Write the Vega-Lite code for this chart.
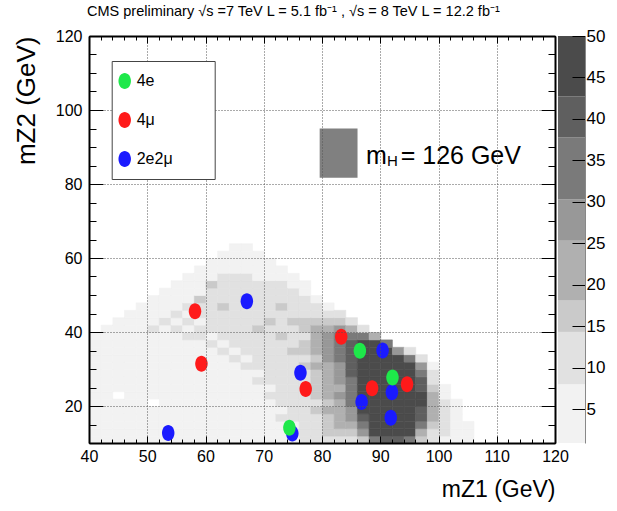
{
"$schema": "https://vega.github.io/schema/vega-lite/v6.json",
"padding": {"left": 13, "top": 3, "right": 5, "bottom": 3},
"bounds": "flush",
"title": {"text": "CMS preliminary √s =7 TeV L = 5.1 fb⁻¹ , √s = 8 TeV L = 12.2 fb⁻¹", "fontSize": 14.5, "fontWeight": "normal", "font": "Liberation Sans", "anchor": "start", "frame": "group", "dx": -2, "offset": 8, "color": "black"},
"datasets": {
"bands": [{"lo":0.9,"hi":8},{"lo":8,"hi":14.3},{"lo":14.3,"hi":18.1},{"lo":18.1,"hi":25.3},{"lo":25.3,"hi":30.3},{"lo":30.3,"hi":37.75},{"lo":37.75,"hi":42.7},{"lo":42.7,"hi":50}],
"events": [
{"mZ1":67.1,"mZ2":48.3,"ch":"2e2μ"},{"mZ1":53.6,"mZ2":12.7,"ch":"2e2μ"},{"mZ1":76.3,"mZ2":29.0,"ch":"2e2μ"},{"mZ1":90.4,"mZ2":35.0,"ch":"2e2μ"},{"mZ1":86.8,"mZ2":21.1,"ch":"2e2μ"},{"mZ1":92.0,"mZ2":23.7,"ch":"2e2μ"},{"mZ1":91.8,"mZ2":16.8,"ch":"2e2μ"},{"mZ1":74.9,"mZ2":12.6,"ch":"2e2μ"},
{"mZ1":58.2,"mZ2":45.6,"ch":"4μ"},{"mZ1":59.3,"mZ2":31.4,"ch":"4μ"},{"mZ1":77.2,"mZ2":24.6,"ch":"4μ"},{"mZ1":83.3,"mZ2":38.7,"ch":"4μ"},{"mZ1":88.6,"mZ2":24.8,"ch":"4μ"},{"mZ1":94.6,"mZ2":25.9,"ch":"4μ"},
{"mZ1":86.5,"mZ2":34.9,"ch":"4e"},{"mZ1":92.1,"mZ2":27.7,"ch":"4e"},{"mZ1":74.4,"mZ2":14.1,"ch":"4e"}
],
"hist": [
{"mZ1":40,"mZ2":10,"n":4},{"mZ1":40,"mZ2":12,"n":3},{"mZ1":40,"mZ2":14,"n":5},{"mZ1":40,"mZ2":16,"n":4},{"mZ1":40,"mZ2":18,"n":3},{"mZ1":40,"mZ2":20,"n":5},{"mZ1":40,"mZ2":22,"n":4},{"mZ1":40,"mZ2":24,"n":6},{"mZ1":40,"mZ2":26,"n":3},{"mZ1":40,"mZ2":28,"n":4},{"mZ1":40,"mZ2":30,"n":5},{"mZ1":40,"mZ2":32,"n":3},{"mZ1":40,"mZ2":34,"n":4},{"mZ1":40,"mZ2":36,"n":3},{"mZ1":40,"mZ2":38,"n":2},
{"mZ1":42,"mZ2":10,"n":3},{"mZ1":42,"mZ2":12,"n":5},{"mZ1":42,"mZ2":14,"n":4},{"mZ1":42,"mZ2":16,"n":6},{"mZ1":42,"mZ2":18,"n":4},{"mZ1":42,"mZ2":20,"n":3},{"mZ1":42,"mZ2":22,"n":5},{"mZ1":42,"mZ2":24,"n":4},{"mZ1":42,"mZ2":26,"n":5},{"mZ1":42,"mZ2":28,"n":6},{"mZ1":42,"mZ2":30,"n":4},{"mZ1":42,"mZ2":32,"n":5},{"mZ1":42,"mZ2":34,"n":3},{"mZ1":42,"mZ2":36,"n":4},{"mZ1":42,"mZ2":38,"n":3},{"mZ1":42,"mZ2":40,"n":2},
{"mZ1":44,"mZ2":10,"n":5},{"mZ1":44,"mZ2":12,"n":4},{"mZ1":44,"mZ2":14,"n":6},{"mZ1":44,"mZ2":16,"n":3},{"mZ1":44,"mZ2":18,"n":5},{"mZ1":44,"mZ2":20,"n":4},{"mZ1":44,"mZ2":24,"n":5},{"mZ1":44,"mZ2":26,"n":4},{"mZ1":44,"mZ2":28,"n":6},{"mZ1":44,"mZ2":30,"n":5},{"mZ1":44,"mZ2":32,"n":4},{"mZ1":44,"mZ2":34,"n":6},{"mZ1":44,"mZ2":36,"n":5},{"mZ1":44,"mZ2":38,"n":4},{"mZ1":44,"mZ2":40,"n":3},{"mZ1":44,"mZ2":42,"n":2},
{"mZ1":46,"mZ2":10,"n":4},{"mZ1":46,"mZ2":12,"n":6},{"mZ1":46,"mZ2":14,"n":5},{"mZ1":46,"mZ2":16,"n":4},{"mZ1":46,"mZ2":18,"n":3},{"mZ1":46,"mZ2":20,"n":5},{"mZ1":46,"mZ2":22,"n":6},{"mZ1":46,"mZ2":24,"n":4},{"mZ1":46,"mZ2":26,"n":5},{"mZ1":46,"mZ2":28,"n":4},{"mZ1":46,"mZ2":30,"n":6},{"mZ1":46,"mZ2":32,"n":5},{"mZ1":46,"mZ2":34,"n":4},{"mZ1":46,"mZ2":36,"n":7},{"mZ1":46,"mZ2":38,"n":5},{"mZ1":46,"mZ2":40,"n":4},{"mZ1":46,"mZ2":42,"n":3},{"mZ1":46,"mZ2":44,"n":2},
{"mZ1":48,"mZ2":10,"n":5},{"mZ1":48,"mZ2":12,"n":4},{"mZ1":48,"mZ2":14,"n":3},{"mZ1":48,"mZ2":16,"n":6},{"mZ1":48,"mZ2":18,"n":5},{"mZ1":48,"mZ2":20,"n":4},{"mZ1":48,"mZ2":22,"n":5},{"mZ1":48,"mZ2":24,"n":6},{"mZ1":48,"mZ2":26,"n":4},{"mZ1":48,"mZ2":28,"n":5},{"mZ1":48,"mZ2":30,"n":7},{"mZ1":48,"mZ2":32,"n":5},{"mZ1":48,"mZ2":34,"n":6},{"mZ1":48,"mZ2":36,"n":5},{"mZ1":48,"mZ2":38,"n":7},{"mZ1":48,"mZ2":40,"n":6},{"mZ1":48,"mZ2":42,"n":5},{"mZ1":48,"mZ2":44,"n":4},{"mZ1":48,"mZ2":46,"n":3},
{"mZ1":50,"mZ2":10,"n":3},{"mZ1":50,"mZ2":12,"n":5},{"mZ1":50,"mZ2":14,"n":4},{"mZ1":50,"mZ2":16,"n":5},{"mZ1":50,"mZ2":18,"n":6},{"mZ1":50,"mZ2":22,"n":5},{"mZ1":50,"mZ2":24,"n":4},{"mZ1":50,"mZ2":26,"n":6},{"mZ1":50,"mZ2":28,"n":5},{"mZ1":50,"mZ2":30,"n":6},{"mZ1":50,"mZ2":32,"n":5},{"mZ1":50,"mZ2":34,"n":7},{"mZ1":50,"mZ2":36,"n":6},{"mZ1":50,"mZ2":38,"n":5},{"mZ1":50,"mZ2":40,"n":9},{"mZ1":50,"mZ2":42,"n":6},{"mZ1":50,"mZ2":44,"n":5},{"mZ1":50,"mZ2":46,"n":4},{"mZ1":50,"mZ2":48,"n":3},
{"mZ1":52,"mZ2":10,"n":5},{"mZ1":52,"mZ2":12,"n":4},{"mZ1":52,"mZ2":14,"n":6},{"mZ1":52,"mZ2":16,"n":5},{"mZ1":52,"mZ2":18,"n":4},{"mZ1":52,"mZ2":20,"n":5},{"mZ1":52,"mZ2":22,"n":6},{"mZ1":52,"mZ2":24,"n":5},{"mZ1":52,"mZ2":26,"n":4},{"mZ1":52,"mZ2":28,"n":6},{"mZ1":52,"mZ2":30,"n":5},{"mZ1":52,"mZ2":32,"n":7},{"mZ1":52,"mZ2":34,"n":6},{"mZ1":52,"mZ2":36,"n":5},{"mZ1":52,"mZ2":38,"n":7},{"mZ1":52,"mZ2":40,"n":6},{"mZ1":52,"mZ2":42,"n":9},{"mZ1":52,"mZ2":44,"n":7},{"mZ1":52,"mZ2":46,"n":5},{"mZ1":52,"mZ2":48,"n":4},{"mZ1":52,"mZ2":50,"n":3},
{"mZ1":54,"mZ2":10,"n":4},{"mZ1":54,"mZ2":12,"n":6},{"mZ1":54,"mZ2":14,"n":3},{"mZ1":54,"mZ2":16,"n":5},{"mZ1":54,"mZ2":18,"n":6},{"mZ1":54,"mZ2":20,"n":4},{"mZ1":54,"mZ2":22,"n":5},{"mZ1":54,"mZ2":24,"n":6},{"mZ1":54,"mZ2":26,"n":5},{"mZ1":54,"mZ2":28,"n":7},{"mZ1":54,"mZ2":30,"n":5},{"mZ1":54,"mZ2":32,"n":6},{"mZ1":54,"mZ2":34,"n":5},{"mZ1":54,"mZ2":36,"n":7},{"mZ1":54,"mZ2":38,"n":6},{"mZ1":54,"mZ2":40,"n":9},{"mZ1":54,"mZ2":42,"n":7},{"mZ1":54,"mZ2":44,"n":10},{"mZ1":54,"mZ2":46,"n":6},{"mZ1":54,"mZ2":48,"n":5},{"mZ1":54,"mZ2":50,"n":4},{"mZ1":54,"mZ2":52,"n":3},
{"mZ1":56,"mZ2":10,"n":5},{"mZ1":56,"mZ2":12,"n":4},{"mZ1":56,"mZ2":14,"n":5},{"mZ1":56,"mZ2":16,"n":6},{"mZ1":56,"mZ2":18,"n":5},{"mZ1":56,"mZ2":20,"n":6},{"mZ1":56,"mZ2":22,"n":4},{"mZ1":56,"mZ2":24,"n":5},{"mZ1":56,"mZ2":26,"n":7},{"mZ1":56,"mZ2":28,"n":6},{"mZ1":56,"mZ2":30,"n":5},{"mZ1":56,"mZ2":32,"n":6},{"mZ1":56,"mZ2":34,"n":7},{"mZ1":56,"mZ2":36,"n":6},{"mZ1":56,"mZ2":38,"n":9},{"mZ1":56,"mZ2":40,"n":7},{"mZ1":56,"mZ2":42,"n":10},{"mZ1":56,"mZ2":44,"n":7},{"mZ1":56,"mZ2":46,"n":9},{"mZ1":56,"mZ2":48,"n":6},{"mZ1":56,"mZ2":50,"n":5},{"mZ1":56,"mZ2":52,"n":4},{"mZ1":56,"mZ2":54,"n":3},
{"mZ1":58,"mZ2":10,"n":4},{"mZ1":58,"mZ2":12,"n":5},{"mZ1":58,"mZ2":14,"n":6},{"mZ1":58,"mZ2":16,"n":4},{"mZ1":58,"mZ2":18,"n":5},{"mZ1":58,"mZ2":20,"n":6},{"mZ1":58,"mZ2":22,"n":5},{"mZ1":58,"mZ2":24,"n":6},{"mZ1":58,"mZ2":26,"n":5},{"mZ1":58,"mZ2":28,"n":6},{"mZ1":58,"mZ2":30,"n":7},{"mZ1":58,"mZ2":32,"n":6},{"mZ1":58,"mZ2":34,"n":5},{"mZ1":58,"mZ2":36,"n":7},{"mZ1":58,"mZ2":38,"n":9},{"mZ1":58,"mZ2":40,"n":10},{"mZ1":58,"mZ2":42,"n":7},{"mZ1":58,"mZ2":44,"n":11},{"mZ1":58,"mZ2":46,"n":9},{"mZ1":58,"mZ2":48,"n":16},{"mZ1":58,"mZ2":50,"n":7},{"mZ1":58,"mZ2":52,"n":6},{"mZ1":58,"mZ2":54,"n":5},{"mZ1":58,"mZ2":56,"n":3},
{"mZ1":60,"mZ2":10,"n":5},{"mZ1":60,"mZ2":12,"n":4},{"mZ1":60,"mZ2":14,"n":5},{"mZ1":60,"mZ2":16,"n":6},{"mZ1":60,"mZ2":18,"n":5},{"mZ1":60,"mZ2":20,"n":5},{"mZ1":60,"mZ2":22,"n":6},{"mZ1":60,"mZ2":24,"n":5},{"mZ1":60,"mZ2":26,"n":6},{"mZ1":60,"mZ2":28,"n":7},{"mZ1":60,"mZ2":30,"n":6},{"mZ1":60,"mZ2":32,"n":5},{"mZ1":60,"mZ2":34,"n":7},{"mZ1":60,"mZ2":36,"n":9},{"mZ1":60,"mZ2":38,"n":7},{"mZ1":60,"mZ2":40,"n":10},{"mZ1":60,"mZ2":42,"n":12},{"mZ1":60,"mZ2":44,"n":9},{"mZ1":60,"mZ2":46,"n":10},{"mZ1":60,"mZ2":48,"n":9},{"mZ1":60,"mZ2":50,"n":11},{"mZ1":60,"mZ2":52,"n":16},{"mZ1":60,"mZ2":54,"n":7},{"mZ1":60,"mZ2":56,"n":5},{"mZ1":60,"mZ2":58,"n":3},
{"mZ1":62,"mZ2":10,"n":4},{"mZ1":62,"mZ2":12,"n":6},{"mZ1":62,"mZ2":14,"n":5},{"mZ1":62,"mZ2":16,"n":5},{"mZ1":62,"mZ2":18,"n":6},{"mZ1":62,"mZ2":20,"n":7},{"mZ1":62,"mZ2":22,"n":5},{"mZ1":62,"mZ2":24,"n":6},{"mZ1":62,"mZ2":26,"n":6},{"mZ1":62,"mZ2":28,"n":7},{"mZ1":62,"mZ2":30,"n":6},{"mZ1":62,"mZ2":32,"n":7},{"mZ1":62,"mZ2":34,"n":9},{"mZ1":62,"mZ2":36,"n":7},{"mZ1":62,"mZ2":38,"n":10},{"mZ1":62,"mZ2":40,"n":9},{"mZ1":62,"mZ2":42,"n":11},{"mZ1":62,"mZ2":44,"n":10},{"mZ1":62,"mZ2":46,"n":16},{"mZ1":62,"mZ2":48,"n":12},{"mZ1":62,"mZ2":50,"n":9},{"mZ1":62,"mZ2":52,"n":10},{"mZ1":62,"mZ2":54,"n":9},{"mZ1":62,"mZ2":56,"n":6},{"mZ1":62,"mZ2":58,"n":5},{"mZ1":62,"mZ2":60,"n":3},
{"mZ1":64,"mZ2":10,"n":5},{"mZ1":64,"mZ2":12,"n":5},{"mZ1":64,"mZ2":14,"n":6},{"mZ1":64,"mZ2":16,"n":4},{"mZ1":64,"mZ2":18,"n":6},{"mZ1":64,"mZ2":20,"n":5},{"mZ1":64,"mZ2":22,"n":6},{"mZ1":64,"mZ2":24,"n":7},{"mZ1":64,"mZ2":26,"n":5},{"mZ1":64,"mZ2":28,"n":6},{"mZ1":64,"mZ2":30,"n":7},{"mZ1":64,"mZ2":32,"n":9},{"mZ1":64,"mZ2":34,"n":7},{"mZ1":64,"mZ2":36,"n":10},{"mZ1":64,"mZ2":38,"n":9},{"mZ1":64,"mZ2":40,"n":10},{"mZ1":64,"mZ2":42,"n":12},{"mZ1":64,"mZ2":44,"n":9},{"mZ1":64,"mZ2":46,"n":11},{"mZ1":64,"mZ2":48,"n":10},{"mZ1":64,"mZ2":50,"n":13},{"mZ1":64,"mZ2":52,"n":9},{"mZ1":64,"mZ2":54,"n":10},{"mZ1":64,"mZ2":56,"n":7},{"mZ1":64,"mZ2":58,"n":6},{"mZ1":64,"mZ2":60,"n":5},{"mZ1":64,"mZ2":62,"n":3},
{"mZ1":66,"mZ2":10,"n":4},{"mZ1":66,"mZ2":12,"n":6},{"mZ1":66,"mZ2":14,"n":5},{"mZ1":66,"mZ2":16,"n":6},{"mZ1":66,"mZ2":18,"n":5},{"mZ1":66,"mZ2":20,"n":7},{"mZ1":66,"mZ2":22,"n":6},{"mZ1":66,"mZ2":24,"n":5},{"mZ1":66,"mZ2":26,"n":7},{"mZ1":66,"mZ2":28,"n":6},{"mZ1":66,"mZ2":30,"n":9},{"mZ1":66,"mZ2":32,"n":7},{"mZ1":66,"mZ2":34,"n":10},{"mZ1":66,"mZ2":36,"n":9},{"mZ1":66,"mZ2":38,"n":11},{"mZ1":66,"mZ2":40,"n":10},{"mZ1":66,"mZ2":42,"n":9},{"mZ1":66,"mZ2":44,"n":12},{"mZ1":66,"mZ2":46,"n":10},{"mZ1":66,"mZ2":48,"n":16},{"mZ1":66,"mZ2":50,"n":11},{"mZ1":66,"mZ2":52,"n":10},{"mZ1":66,"mZ2":54,"n":9},{"mZ1":66,"mZ2":56,"n":7},{"mZ1":66,"mZ2":58,"n":6},{"mZ1":66,"mZ2":60,"n":5},{"mZ1":66,"mZ2":62,"n":3},
{"mZ1":68,"mZ2":10,"n":5},{"mZ1":68,"mZ2":12,"n":6},{"mZ1":68,"mZ2":14,"n":5},{"mZ1":68,"mZ2":16,"n":7},{"mZ1":68,"mZ2":18,"n":6},{"mZ1":68,"mZ2":20,"n":5},{"mZ1":68,"mZ2":22,"n":7},{"mZ1":68,"mZ2":24,"n":6},{"mZ1":68,"mZ2":26,"n":9},{"mZ1":68,"mZ2":28,"n":7},{"mZ1":68,"mZ2":30,"n":10},{"mZ1":68,"mZ2":32,"n":9},{"mZ1":68,"mZ2":34,"n":11},{"mZ1":68,"mZ2":36,"n":10},{"mZ1":68,"mZ2":38,"n":12},{"mZ1":68,"mZ2":40,"n":16},{"mZ1":68,"mZ2":42,"n":11},{"mZ1":68,"mZ2":44,"n":10},{"mZ1":68,"mZ2":46,"n":12},{"mZ1":68,"mZ2":48,"n":9},{"mZ1":68,"mZ2":50,"n":11},{"mZ1":68,"mZ2":52,"n":10},{"mZ1":68,"mZ2":54,"n":7},{"mZ1":68,"mZ2":56,"n":6},{"mZ1":68,"mZ2":58,"n":4},{"mZ1":68,"mZ2":60,"n":3},
{"mZ1":70,"mZ2":10,"n":6},{"mZ1":70,"mZ2":12,"n":5},{"mZ1":70,"mZ2":14,"n":7},{"mZ1":70,"mZ2":16,"n":6},{"mZ1":70,"mZ2":18,"n":7},{"mZ1":70,"mZ2":20,"n":6},{"mZ1":70,"mZ2":22,"n":9},{"mZ1":70,"mZ2":24,"n":7},{"mZ1":70,"mZ2":26,"n":10},{"mZ1":70,"mZ2":28,"n":9},{"mZ1":70,"mZ2":30,"n":12},{"mZ1":70,"mZ2":32,"n":10},{"mZ1":70,"mZ2":34,"n":11},{"mZ1":70,"mZ2":36,"n":12},{"mZ1":70,"mZ2":38,"n":10},{"mZ1":70,"mZ2":40,"n":11},{"mZ1":70,"mZ2":42,"n":16},{"mZ1":70,"mZ2":44,"n":12},{"mZ1":70,"mZ2":46,"n":11},{"mZ1":70,"mZ2":48,"n":10},{"mZ1":70,"mZ2":50,"n":12},{"mZ1":70,"mZ2":52,"n":9},{"mZ1":70,"mZ2":54,"n":7},{"mZ1":70,"mZ2":56,"n":5},{"mZ1":70,"mZ2":58,"n":3},
{"mZ1":72,"mZ2":10,"n":6},{"mZ1":72,"mZ2":12,"n":7},{"mZ1":72,"mZ2":14,"n":6},{"mZ1":72,"mZ2":16,"n":9},{"mZ1":72,"mZ2":18,"n":7},{"mZ1":72,"mZ2":20,"n":10},{"mZ1":72,"mZ2":22,"n":9},{"mZ1":72,"mZ2":24,"n":11},{"mZ1":72,"mZ2":26,"n":10},{"mZ1":72,"mZ2":28,"n":12},{"mZ1":72,"mZ2":30,"n":11},{"mZ1":72,"mZ2":32,"n":10},{"mZ1":72,"mZ2":34,"n":12},{"mZ1":72,"mZ2":36,"n":11},{"mZ1":72,"mZ2":38,"n":16},{"mZ1":72,"mZ2":40,"n":12},{"mZ1":72,"mZ2":42,"n":11},{"mZ1":72,"mZ2":44,"n":10},{"mZ1":72,"mZ2":46,"n":17},{"mZ1":72,"mZ2":48,"n":11},{"mZ1":72,"mZ2":50,"n":10},{"mZ1":72,"mZ2":52,"n":9},{"mZ1":72,"mZ2":54,"n":6},{"mZ1":72,"mZ2":56,"n":4},
{"mZ1":74,"mZ2":10,"n":7},{"mZ1":74,"mZ2":12,"n":9},{"mZ1":74,"mZ2":14,"n":7},{"mZ1":74,"mZ2":16,"n":10},{"mZ1":74,"mZ2":18,"n":9},{"mZ1":74,"mZ2":20,"n":11},{"mZ1":74,"mZ2":22,"n":10},{"mZ1":74,"mZ2":24,"n":12},{"mZ1":74,"mZ2":26,"n":11},{"mZ1":74,"mZ2":28,"n":13},{"mZ1":74,"mZ2":30,"n":11},{"mZ1":74,"mZ2":32,"n":12},{"mZ1":74,"mZ2":34,"n":16},{"mZ1":74,"mZ2":36,"n":12},{"mZ1":74,"mZ2":38,"n":11},{"mZ1":74,"mZ2":40,"n":13},{"mZ1":74,"mZ2":42,"n":16},{"mZ1":74,"mZ2":44,"n":12},{"mZ1":74,"mZ2":46,"n":11},{"mZ1":74,"mZ2":48,"n":10},{"mZ1":74,"mZ2":50,"n":9},{"mZ1":74,"mZ2":52,"n":6},{"mZ1":74,"mZ2":54,"n":4},
{"mZ1":76,"mZ2":10,"n":9},{"mZ1":76,"mZ2":12,"n":10},{"mZ1":76,"mZ2":14,"n":11},{"mZ1":76,"mZ2":16,"n":10},{"mZ1":76,"mZ2":18,"n":12},{"mZ1":76,"mZ2":20,"n":11},{"mZ1":76,"mZ2":22,"n":13},{"mZ1":76,"mZ2":24,"n":12},{"mZ1":76,"mZ2":26,"n":11},{"mZ1":76,"mZ2":28,"n":13},{"mZ1":76,"mZ2":30,"n":16},{"mZ1":76,"mZ2":32,"n":12},{"mZ1":76,"mZ2":34,"n":15},{"mZ1":76,"mZ2":36,"n":16},{"mZ1":76,"mZ2":38,"n":13},{"mZ1":76,"mZ2":40,"n":17},{"mZ1":76,"mZ2":42,"n":16},{"mZ1":76,"mZ2":44,"n":12},{"mZ1":76,"mZ2":46,"n":11},{"mZ1":76,"mZ2":48,"n":9},{"mZ1":76,"mZ2":50,"n":6},{"mZ1":76,"mZ2":52,"n":4},
{"mZ1":78,"mZ2":10,"n":10},{"mZ1":78,"mZ2":12,"n":12},{"mZ1":78,"mZ2":14,"n":13},{"mZ1":78,"mZ2":16,"n":12},{"mZ1":78,"mZ2":18,"n":15},{"mZ1":78,"mZ2":20,"n":13},{"mZ1":78,"mZ2":22,"n":16},{"mZ1":78,"mZ2":24,"n":15},{"mZ1":78,"mZ2":26,"n":17},{"mZ1":78,"mZ2":28,"n":16},{"mZ1":78,"mZ2":30,"n":20},{"mZ1":78,"mZ2":32,"n":17},{"mZ1":78,"mZ2":34,"n":22},{"mZ1":78,"mZ2":36,"n":20},{"mZ1":78,"mZ2":38,"n":21},{"mZ1":78,"mZ2":40,"n":20},{"mZ1":78,"mZ2":42,"n":17},{"mZ1":78,"mZ2":44,"n":13},{"mZ1":78,"mZ2":46,"n":9},{"mZ1":78,"mZ2":48,"n":5},
{"mZ1":80,"mZ2":10,"n":12},{"mZ1":80,"mZ2":12,"n":15},{"mZ1":80,"mZ2":14,"n":16},{"mZ1":80,"mZ2":16,"n":17},{"mZ1":80,"mZ2":18,"n":20},{"mZ1":80,"mZ2":20,"n":17},{"mZ1":80,"mZ2":22,"n":22},{"mZ1":80,"mZ2":24,"n":21},{"mZ1":80,"mZ2":26,"n":23},{"mZ1":80,"mZ2":28,"n":22},{"mZ1":80,"mZ2":30,"n":24},{"mZ1":80,"mZ2":32,"n":26},{"mZ1":80,"mZ2":34,"n":27},{"mZ1":80,"mZ2":36,"n":28},{"mZ1":80,"mZ2":38,"n":28},{"mZ1":80,"mZ2":40,"n":24},{"mZ1":80,"mZ2":42,"n":18},{"mZ1":80,"mZ2":44,"n":11},{"mZ1":80,"mZ2":46,"n":5},
{"mZ1":82,"mZ2":10,"n":13},{"mZ1":82,"mZ2":12,"n":17},{"mZ1":82,"mZ2":14,"n":20},{"mZ1":82,"mZ2":16,"n":22},{"mZ1":82,"mZ2":18,"n":24},{"mZ1":82,"mZ2":20,"n":23},{"mZ1":82,"mZ2":22,"n":26},{"mZ1":82,"mZ2":24,"n":24},{"mZ1":82,"mZ2":26,"n":27},{"mZ1":82,"mZ2":28,"n":26},{"mZ1":82,"mZ2":30,"n":28},{"mZ1":82,"mZ2":32,"n":32},{"mZ1":82,"mZ2":34,"n":36},{"mZ1":82,"mZ2":36,"n":35},{"mZ1":82,"mZ2":38,"n":32},{"mZ1":82,"mZ2":40,"n":28},{"mZ1":82,"mZ2":42,"n":18},{"mZ1":82,"mZ2":44,"n":8},
{"mZ1":84,"mZ2":10,"n":14},{"mZ1":84,"mZ2":12,"n":18},{"mZ1":84,"mZ2":14,"n":22},{"mZ1":84,"mZ2":16,"n":26},{"mZ1":84,"mZ2":18,"n":30},{"mZ1":84,"mZ2":20,"n":33},{"mZ1":84,"mZ2":22,"n":35},{"mZ1":84,"mZ2":24,"n":36},{"mZ1":84,"mZ2":26,"n":37},{"mZ1":84,"mZ2":28,"n":39},{"mZ1":84,"mZ2":30,"n":40},{"mZ1":84,"mZ2":32,"n":41},{"mZ1":84,"mZ2":34,"n":42},{"mZ1":84,"mZ2":36,"n":42},{"mZ1":84,"mZ2":38,"n":34},{"mZ1":84,"mZ2":40,"n":24},{"mZ1":84,"mZ2":42,"n":10},
{"mZ1":86,"mZ2":10,"n":18},{"mZ1":86,"mZ2":12,"n":30},{"mZ1":86,"mZ2":14,"n":36},{"mZ1":86,"mZ2":16,"n":42},{"mZ1":86,"mZ2":18,"n":45},{"mZ1":86,"mZ2":20,"n":46},{"mZ1":86,"mZ2":22,"n":48},{"mZ1":86,"mZ2":24,"n":47},{"mZ1":86,"mZ2":26,"n":48},{"mZ1":86,"mZ2":28,"n":49},{"mZ1":86,"mZ2":30,"n":47},{"mZ1":86,"mZ2":32,"n":46},{"mZ1":86,"mZ2":34,"n":47},{"mZ1":86,"mZ2":36,"n":44},{"mZ1":86,"mZ2":38,"n":32},{"mZ1":86,"mZ2":40,"n":14},
{"mZ1":88,"mZ2":10,"n":33},{"mZ1":88,"mZ2":12,"n":45},{"mZ1":88,"mZ2":14,"n":48},{"mZ1":88,"mZ2":16,"n":50},{"mZ1":88,"mZ2":18,"n":49},{"mZ1":88,"mZ2":20,"n":50},{"mZ1":88,"mZ2":22,"n":48},{"mZ1":88,"mZ2":24,"n":50},{"mZ1":88,"mZ2":26,"n":49},{"mZ1":88,"mZ2":28,"n":50},{"mZ1":88,"mZ2":30,"n":48},{"mZ1":88,"mZ2":32,"n":49},{"mZ1":88,"mZ2":34,"n":48},{"mZ1":88,"mZ2":36,"n":44},{"mZ1":88,"mZ2":38,"n":22},
{"mZ1":90,"mZ2":10,"n":40},{"mZ1":90,"mZ2":12,"n":47},{"mZ1":90,"mZ2":14,"n":49},{"mZ1":90,"mZ2":16,"n":50},{"mZ1":90,"mZ2":18,"n":50},{"mZ1":90,"mZ2":20,"n":49},{"mZ1":90,"mZ2":22,"n":50},{"mZ1":90,"mZ2":24,"n":48},{"mZ1":90,"mZ2":26,"n":50},{"mZ1":90,"mZ2":28,"n":49},{"mZ1":90,"mZ2":30,"n":50},{"mZ1":90,"mZ2":32,"n":48},{"mZ1":90,"mZ2":34,"n":46},{"mZ1":90,"mZ2":36,"n":36},
{"mZ1":92,"mZ2":10,"n":40},{"mZ1":92,"mZ2":12,"n":47},{"mZ1":92,"mZ2":14,"n":48},{"mZ1":92,"mZ2":16,"n":50},{"mZ1":92,"mZ2":18,"n":49},{"mZ1":92,"mZ2":20,"n":50},{"mZ1":92,"mZ2":22,"n":49},{"mZ1":92,"mZ2":24,"n":50},{"mZ1":92,"mZ2":26,"n":48},{"mZ1":92,"mZ2":28,"n":49},{"mZ1":92,"mZ2":30,"n":47},{"mZ1":92,"mZ2":32,"n":46},{"mZ1":92,"mZ2":34,"n":30},
{"mZ1":94,"mZ2":10,"n":32},{"mZ1":94,"mZ2":12,"n":44},{"mZ1":94,"mZ2":14,"n":46},{"mZ1":94,"mZ2":16,"n":47},{"mZ1":94,"mZ2":18,"n":49},{"mZ1":94,"mZ2":20,"n":48},{"mZ1":94,"mZ2":22,"n":50},{"mZ1":94,"mZ2":24,"n":47},{"mZ1":94,"mZ2":26,"n":49},{"mZ1":94,"mZ2":28,"n":46},{"mZ1":94,"mZ2":30,"n":44},{"mZ1":94,"mZ2":32,"n":36},{"mZ1":94,"mZ2":34,"n":14},
{"mZ1":96,"mZ2":10,"n":16},{"mZ1":96,"mZ2":12,"n":25},{"mZ1":96,"mZ2":14,"n":32},{"mZ1":96,"mZ2":16,"n":38},{"mZ1":96,"mZ2":18,"n":42},{"mZ1":96,"mZ2":20,"n":44},{"mZ1":96,"mZ2":22,"n":43},{"mZ1":96,"mZ2":24,"n":42},{"mZ1":96,"mZ2":26,"n":40},{"mZ1":96,"mZ2":28,"n":36},{"mZ1":96,"mZ2":30,"n":28},{"mZ1":96,"mZ2":32,"n":8},
{"mZ1":98,"mZ2":10,"n":10},{"mZ1":98,"mZ2":12,"n":14},{"mZ1":98,"mZ2":14,"n":17},{"mZ1":98,"mZ2":16,"n":20},{"mZ1":98,"mZ2":18,"n":22},{"mZ1":98,"mZ2":20,"n":22},{"mZ1":98,"mZ2":22,"n":20},{"mZ1":98,"mZ2":24,"n":18},{"mZ1":98,"mZ2":26,"n":14},{"mZ1":98,"mZ2":28,"n":9},{"mZ1":98,"mZ2":30,"n":5},
{"mZ1":100,"mZ2":10,"n":7},{"mZ1":100,"mZ2":12,"n":10},{"mZ1":100,"mZ2":14,"n":11},{"mZ1":100,"mZ2":16,"n":12},{"mZ1":100,"mZ2":18,"n":10},{"mZ1":100,"mZ2":20,"n":9},{"mZ1":100,"mZ2":22,"n":7},{"mZ1":100,"mZ2":24,"n":4},
{"mZ1":102,"mZ2":10,"n":4},{"mZ1":102,"mZ2":12,"n":5},{"mZ1":102,"mZ2":14,"n":6},{"mZ1":102,"mZ2":16,"n":5},{"mZ1":102,"mZ2":18,"n":4},{"mZ1":102,"mZ2":20,"n":3},
{"mZ1":104,"mZ2":10,"n":3},{"mZ1":104,"mZ2":12,"n":3},{"mZ1":104,"mZ2":14,"n":2}
]
},
"hconcat": [
{
"width": 466, "height": 407,
"resolve": {"axis": {"x": "independent", "y": "independent"}},
"layer": [
{
"data": {"name": "hist"},
"mark": {"type": "rect", "strokeWidth": 0.6},
"encoding": {
"x": {"field": "mZ1", "type": "quantitative", "bin": {"binned": true, "step": 2}, "scale": {"domain": [40, 120], "nice": false, "zero": false},
"axis": {"orient": "bottom", "values": [40,50,60,70,80,90,100,110,120], "title": "mZ1 (GeV)", "titleFontSize": 23, "titleFont": "Liberation Sans", "titleAnchor": "end", "titlePadding": 14, "grid": true, "gridDash": [1,2], "gridColor": "#555", "gridWidth": 1, "tickSize": -7, "labelPadding": 12, "labelFontSize": 16, "domain": true, "domainColor": "black", "domainWidth": 2, "zindex": 1, "labelFlush": false, "labelOverlap": false}},
"y": {"field": "mZ2", "type": "quantitative", "bin": {"binned": true, "step": 2}, "scale": {"domain": [10, 120], "nice": false, "zero": false},
"axis": {"orient": "left", "values": [20,40,60,80,100,120], "title": "mZ2 (GeV)", "titleFontSize": 26, "titleFont": "Liberation Sans", "titleAnchor": "end", "titlePadding": 16, "grid": true, "gridDash": [1,2], "gridColor": "#555", "gridWidth": 1, "tickSize": -14, "labelPadding": 21, "labelFontSize": 16, "domain": true, "domainColor": "black", "domainWidth": 2, "zindex": 1, "labelFlush": false, "labelOverlap": false}},
"color": {"field": "n", "type": "quantitative", "scale": {"type": "threshold", "domain": [8,14.3,18.1,25.3,30.3,37.75,42.7], "range": ["#f2f2f2","#e1e1e1","#cacaca","#b0b0b0","#989898","#7a7a7a","#5f5f5f","#4b4b4b"]}, "legend": null},
"stroke": {"field": "n", "type": "quantitative", "scale": {"type": "threshold", "domain": [8,14.3,18.1,25.3,30.3,37.75,42.7], "range": ["#f2f2f2","#e1e1e1","#cacaca","#b0b0b0","#989898","#7a7a7a","#5f5f5f","#4b4b4b"]}, "legend": null}
}
},
{
"data": {"name": "events"},
"mark": {"type": "point", "filled": true, "shape": "M0,-1C0.431,-1,0.78,-0.552,0.78,0C0.78,0.552,0.431,1,0,1C-0.431,1,-0.78,0.552,-0.78,0C-0.78,-0.552,-0.431,-1,0,-1Z", "size": 256, "opacity": 1, "strokeWidth": 0},
"encoding": {
"x": {"field": "mZ1", "type": "quantitative", "axis": {"orient": "bottom", "values": [40,42,44,46,48,50,52,54,56,58,60,62,64,66,68,70,72,74,76,78,80,82,84,86,88,90,92,94,96,98,100,102,104,106,108,110,112,114,116,118,120], "labels": false, "title": null, "grid": false, "domain": false, "tickSize": -4, "zindex": 1}},
"y": {"field": "mZ2", "type": "quantitative", "axis": {"orient": "left", "values": [10,15,20,25,30,35,40,45,50,55,60,65,70,75,80,85,90,95,100,105,110,115,120], "labels": false, "title": null, "grid": false, "domain": false, "tickSize": -7, "zindex": 1}},
"fill": {"field": "ch", "type": "nominal", "scale": {"domain": ["4e","4μ","2e2μ"], "range": ["#1ee84a","#ff1a1a","#1a1aff"]},
"legend": {"orient": "none", "legendX": 22.7, "legendY": 25, "title": "xxxxx", "titleOrient": "right", "titleFontSize": 10, "titlePadding": 2, "titleOpacity": 0, "direction": "vertical", "strokeColor": "#444", "fillColor": "white", "padding": 12, "rowPadding": 23, "symbolSize": 256, "symbolType": "M0,-1C0.431,-1,0.78,-0.552,0.78,0C0.78,0.552,0.431,1,0,1C-0.431,1,-0.78,0.552,-0.78,0C-0.78,-0.552,-0.431,-1,0,-1Z", "symbolStrokeWidth": 0, "symbolOffset": -7, "labelOffset": 4, "labelFontSize": 16, "labelFont": "Liberation Sans"}}
}
},
{
"data": {"values": [{}]},
"mark": {"type": "rect", "color": "#808080"},
"encoding": {
"x": {"datum": 79.6, "type": "quantitative", "axis": {"orient": "top", "values": [40,50,60,70,80,90,100,110,120], "labels": false, "title": null, "grid": false, "domain": true, "domainColor": "black", "domainWidth": 2, "tickSize": -7, "zindex": 1}},
"x2": {"datum": 86.1},
"y": {"datum": 81.7, "type": "quantitative", "axis": {"orient": "right", "values": [20,40,60,80,100,120], "labels": false, "title": null, "grid": false, "domain": true, "domainColor": "black", "domainWidth": 2, "tickSize": -14, "zindex": 1}},
"y2": {"datum": 95.0}
}
},
{
"data": {"values": [{}]},
"mark": {"type": "text", "text": "m", "fontSize": 25, "align": "left", "baseline": "alphabetic", "font": "Liberation Sans", "color": "black"},
"encoding": {
"x": {"datum": 87.55, "type": "quantitative", "axis": {"orient": "top", "values": [40,42,44,46,48,50,52,54,56,58,60,62,64,66,68,70,72,74,76,78,80,82,84,86,88,90,92,94,96,98,100,102,104,106,108,110,112,114,116,118,120], "labels": false, "title": null, "grid": false, "domain": false, "tickSize": -4, "zindex": 1}},
"y": {"datum": 85.3, "type": "quantitative", "axis": {"orient": "right", "values": [10,15,20,25,30,35,40,45,50,55,60,65,70,75,80,85,90,95,100,105,110,115,120], "labels": false, "title": null, "grid": false, "domain": false, "tickSize": -7, "zindex": 1}}
}
},
{
"data": {"values": [{}]},
"mark": {"type": "text", "text": "H", "fontSize": 15, "align": "left", "baseline": "alphabetic", "font": "Liberation Sans", "color": "black"},
"encoding": {
"x": {"datum": 91.16, "type": "quantitative", "axis": null},
"y": {"datum": 84.86, "type": "quantitative", "axis": null}
}
},
{
"data": {"values": [{}]},
"mark": {"type": "text", "text": "= 126 GeV", "fontSize": 25, "align": "left", "baseline": "alphabetic", "font": "Liberation Sans", "color": "black"},
"encoding": {
"x": {"datum": 93.51, "type": "quantitative", "axis": null},
"y": {"datum": 85.3, "type": "quantitative", "axis": null}
}
}
]
},
{
"width": 27, "height": 407,
"data": {"name": "bands"},
"mark": {"type": "rect"},
"encoding": {
"y": {"field": "lo", "type": "quantitative", "scale": {"domain": [0.9, 50], "nice": false, "zero": false},
"axis": {"orient": "right", "values": [5,10,15,20,25,30,35,40,45,50], "title": null, "grid": false, "tickSize": -13, "labelPadding": 14, "labelFontSize": 17, "domainColor": "#888", "domainWidth": 1, "labelFlush": false, "labelOverlap": false, "zindex": 1}},
"y2": {"field": "hi"},
"color": {"field": "lo", "type": "quantitative", "scale": {"type": "threshold", "domain": [8,14.3,18.1,25.3,30.3,37.75,42.7], "range": ["#f2f2f2","#e1e1e1","#cacaca","#b0b0b0","#989898","#7a7a7a","#5f5f5f","#4b4b4b"]}, "legend": null}
}
}
],
"spacing": 3,
"resolve": {"scale": {"x": "independent", "y": "independent", "color": "independent"}},
"config": {
"font": "Liberation Sans",
"view": {"stroke": null},
"axis": {"labelFont": "Liberation Sans", "labelColor": "black", "tickColor": "black", "tickWidth": 1, "titleColor": "black", "titleFontWeight": "normal"},
"legend": {"labelColor": "black"}
}
}
